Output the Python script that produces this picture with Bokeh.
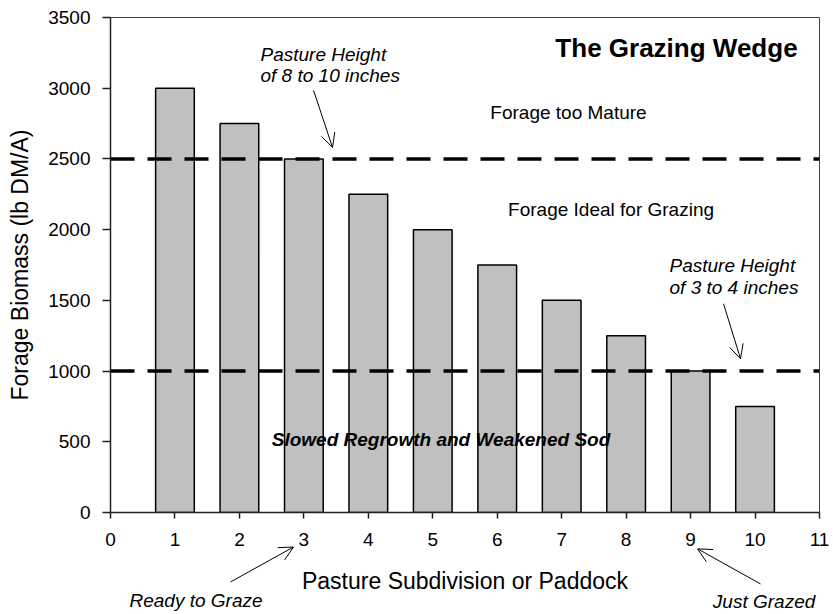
from bokeh.plotting import figure
from bokeh.models import (Range1d, FixedTicker, Span, Label, Arrow, OpenHead,
                          ColumnDataSource, GridBox)
from bokeh.embed import file_html
from bokeh.resources import INLINE

# ---- data ----
paddock = [1, 2, 3, 4, 5, 6, 7, 8, 9, 10]
biomass = [3000, 2750, 2500, 2250, 2000, 1750, 1500, 1250, 1000, 750]
thresholds = [2500, 1000]
x_ticks = list(range(0, 12))
y_ticks = [0, 500, 1000, 1500, 2000, 2500, 3000, 3500]
X0, X1 = 0, 11
Y0, Y1 = 0, 3500

FONT = "Liberation Sans"

# ---- layout (pixels) ----
W, H = 833, 614
L, R, T, B = 110, 819, 17, 512   # frame edges

p = figure(width=W, height=H, output_backend="svg", toolbar_location=None,
           x_range=Range1d(X0, X1), y_range=Range1d(Y0, Y1),
           min_border_left=L, min_border_right=W - R, min_border_top=T,
           min_border_bottom=H - B)

p.xgrid.visible = False
p.ygrid.visible = False
p.outline_line_color = "#404040"
p.outline_line_width = 1

src = ColumnDataSource(dict(x=paddock, top=biomass))
p.vbar(x="x", top="top", width=0.6, source=src, fill_color="#c0c0c0",
       line_color="black", line_width=1.5)

for t in thresholds:
    p.add_layout(Span(location=t, dimension="width", line_color="black",
                      line_width=3.5, line_dash="24 13"))

# axes
p.xaxis.ticker = FixedTicker(ticks=x_ticks)
p.yaxis.ticker = FixedTicker(ticks=y_ticks)
for ax in (p.xaxis[0], p.yaxis[0]):
    ax.axis_line_color = "#202020"
    ax.axis_line_width = 1.5
    ax.major_tick_line_color = "#202020"
    ax.major_tick_line_width = 1.5
    ax.major_tick_in = 0
    ax.minor_tick_line_color = None
    ax.major_label_text_font = FONT
    ax.major_label_text_font_size = "19px"
    ax.major_label_text_color = "black"
    ax.axis_label_text_font = FONT
    ax.axis_label_text_font_style = "normal"
    ax.axis_label_text_font_size = "23px"
    ax.axis_label_text_color = "black"
p.xaxis.major_tick_out = 6
p.yaxis.major_tick_out = 8
p.xaxis.major_label_standoff = 14
p.yaxis.major_label_standoff = 12
p.xaxis.axis_label = "Pasture Subdivision or Paddock"
p.yaxis.axis_label = "Forage Biomass (lb DM/A)"
p.xaxis.axis_label_standoff = 19
p.yaxis.axis_label_standoff = 12

# transparent overlay figure sharing the same data mapping, covering the
# whole canvas so that notes below the axis are not clipped
sx = (R - L) / (X1 - X0)
sy = (B - T) / (Y1 - Y0)
ov = figure(width=W, height=H, output_backend="svg", toolbar_location=None,
            x_range=Range1d(X0 - L / sx, X1 + (W - R) / sx),
            y_range=Range1d(Y0 - (H - B) / sy, Y1 + T / sy),
            x_axis_type=None, y_axis_type=None,
            min_border=0, min_border_left=0, min_border_right=0,
            min_border_top=0, min_border_bottom=0)
ov.xgrid.visible = False
ov.ygrid.visible = False
ov.outline_line_color = None
ov.background_fill_alpha = 0
ov.border_fill_alpha = 0
for fig in (p, ov):
    try:
        fig.frame_align = False
    except Exception:
        pass


def lab(fig, x, y, text, size="19px", style="normal", align="center"):
    fig.add_layout(Label(x=x, y=y, text=text, text_font=FONT,
                         text_font_size=size, text_font_style=style,
                         text_align=align, text_baseline="middle",
                         text_color="black"))


def arr(fig, x0, y0, x1, y1):
    fig.add_layout(Arrow(x_start=x0, y_start=y0, x_end=x1, y_end=y1,
                         line_width=1, line_color="black",
                         end=OpenHead(size=14, line_width=1,
                                      line_color="black")))


lab(p, 10.66, 3283, "The Grazing Wedge", size="26px", style="bold", align="right")
lab(p, 7.106, 2830, "Forage too Mature")
lab(p, 7.766, 2143, "Forage Ideal for Grazing")
lab(p, 2.327, 3240, "Pasture Height", style="italic", align="left")
lab(p, 2.327, 3091, "of 8 to 10 inches", style="italic", align="left")
lab(p, 8.673, 1745, "Pasture Height", style="italic", align="left")
lab(p, 8.673, 1590, "of 3 to 4 inches", style="italic", align="left")
lab(p, 5.128, 515, "Slowed Regrowth and Weakened Sod", style="bold italic")

arr(p, 3.150, 2985, 3.445, 2581)
arr(p, 9.511, 1476, 9.775, 1087)

lab(ov, 1.327, -625, "Ready to Graze", style="italic")
lab(ov, 10.14, -628, "Just Grazed", style="italic")
arr(ov, 1.862, -491, 2.839, -244)
arr(ov, 10.085, -505, 9.108, -257)

grid = GridBox(children=[(p, 0, 0), (ov, 0, 0)], spacing=0)

open("out.html", "w").write(file_html(grid, INLINE))
